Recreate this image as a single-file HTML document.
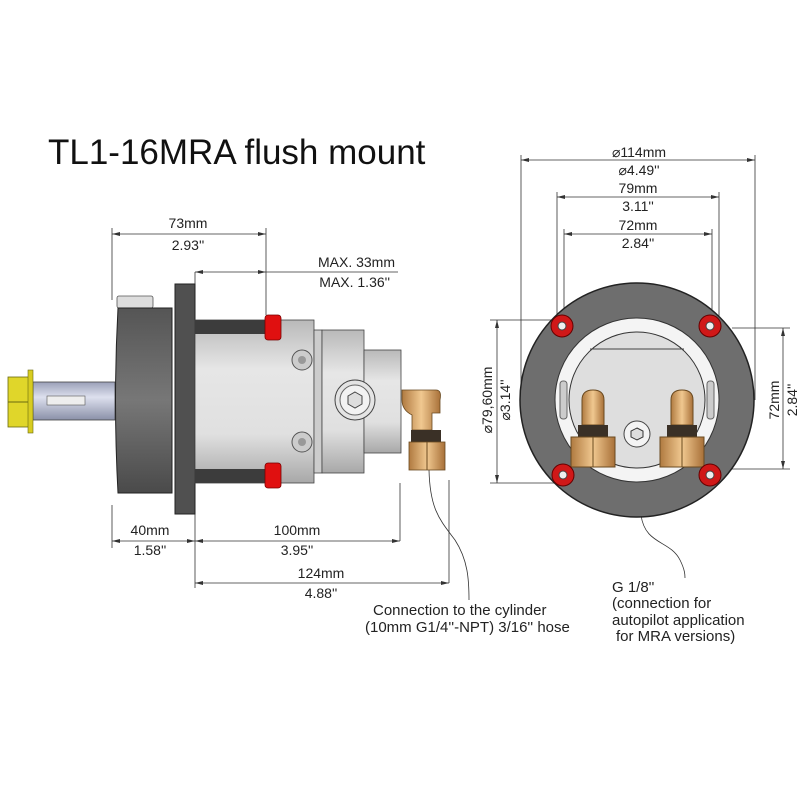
<!DOCTYPE html>
<html><head><meta charset="utf-8"><style>
html,body{margin:0;padding:0;background:#fff;}
svg{display:block;}
text{font-family:"Liberation Sans",sans-serif;fill:#222;}
</style></head><body>
<svg width="800" height="800" viewBox="0 0 800 800" xmlns="http://www.w3.org/2000/svg">
<defs>
<linearGradient id="gBody" x1="0" y1="0" x2="0" y2="1">
<stop offset="0" stop-color="#b9b9b9"/><stop offset="0.3" stop-color="#e6e6e6"/><stop offset="0.7" stop-color="#e0e0e0"/><stop offset="1" stop-color="#a8a8a8"/></linearGradient>
<linearGradient id="gDark" x1="0" y1="0" x2="0" y2="1">
<stop offset="0" stop-color="#555"/><stop offset="0.5" stop-color="#777"/><stop offset="1" stop-color="#4a4a4a"/></linearGradient>
<linearGradient id="gShaft" x1="0" y1="0" x2="0" y2="1">
<stop offset="0" stop-color="#9aa0b8"/><stop offset="0.4" stop-color="#dde0ee"/><stop offset="1" stop-color="#8a90a8"/></linearGradient>
<linearGradient id="gBrass" x1="0" y1="0" x2="1" y2="0">
<stop offset="0" stop-color="#b07a40"/><stop offset="0.5" stop-color="#f0c890"/><stop offset="1" stop-color="#a87038"/></linearGradient>
</defs>
<g stroke="#333" stroke-width="0.8" fill="none">
<!-- dims left -->
<line x1="112" y1="234" x2="266" y2="234"/>
<line x1="112" y1="228" x2="112" y2="300"/><line x1="112" y1="505" x2="112" y2="548"/>
<line x1="266" y1="228" x2="266" y2="315"/>
<line x1="195" y1="272" x2="398" y2="272"/><line x1="195" y1="272" x2="195" y2="285"/>
<line x1="112" y1="541" x2="400" y2="541"/>
<line x1="195" y1="512" x2="195" y2="588"/>
<line x1="400" y1="483" x2="400" y2="541"/>
<line x1="195" y1="583" x2="449" y2="583"/>
<line x1="449" y1="480" x2="449" y2="583"/>
<!-- dims right -->
<line x1="521" y1="160" x2="755" y2="160"/><line x1="521" y1="155" x2="521" y2="400"/><line x1="755" y1="155" x2="755" y2="400"/>
<line x1="557" y1="197" x2="719" y2="197"/><line x1="557" y1="192" x2="557" y2="330"/><line x1="719" y1="192" x2="719" y2="330"/>
<line x1="564" y1="234" x2="712" y2="234"/><line x1="564" y1="229" x2="564" y2="325"/><line x1="712" y1="229" x2="712" y2="325"/>
<line x1="497" y1="320" x2="497" y2="483"/><line x1="490" y1="320" x2="605" y2="320"/><line x1="490" y1="483" x2="605" y2="483"/>
<line x1="783" y1="328" x2="783" y2="469"/><line x1="732" y1="328" x2="790" y2="328"/><line x1="732" y1="469" x2="790" y2="469"/>
<!-- leaders -->
<path d="M429 470 C430 510 440 520 455 540 C468 560 469 580 469 600"/>
<path d="M640 420 L641 515 C645 545 670 540 680 560 C685 570 685 575 685 578"/>
</g>
<g fill="#333">
<path d="M112 234 l8 -2 v4z"/><path d="M266 234 l-8 -2 v4z"/>
<path d="M195 272 l8 -2 v4z"/><path d="M266 272 l-8 -2 v4z"/>
<path d="M112 541 l8 -2 v4z"/><path d="M195 541 l-8 -2 v4z"/><path d="M195 541 l8 -2 v4z"/><path d="M400 541 l-8 -2 v4z"/>
<path d="M195 583 l8 -2 v4z"/><path d="M449 583 l-8 -2 v4z"/>
<path d="M521 160 l8 -2 v4z"/><path d="M755 160 l-8 -2 v4z"/>
<path d="M557 197 l8 -2 v4z"/><path d="M719 197 l-8 -2 v4z"/>
<path d="M564 234 l8 -2 v4z"/><path d="M712 234 l-8 -2 v4z"/>
<path d="M497 320 l-2 8 h4z"/><path d="M497 483 l-2 -8 h4z"/>
<path d="M783 328 l-2 8 h4z"/><path d="M783 469 l-2 -8 h4z"/>
</g>

<!-- LEFT VIEW -->
<rect x="33" y="382" width="82" height="38" fill="url(#gShaft)" stroke="#444" stroke-width="0.8"/>
<rect x="47" y="396" width="38" height="9" fill="#eee" stroke="#555" stroke-width="0.6"/>
<rect x="8" y="377" width="22" height="50" fill="#e0d62a" stroke="#6a6a10" stroke-width="0.8"/>
<line x1="8" y1="402" x2="30" y2="402" stroke="#6a6a10"/>
<rect x="28" y="370" width="5" height="63" fill="#d8cc20" stroke="#6a6a10" stroke-width="0.6"/>
<rect x="117" y="296" width="36" height="12" rx="2" fill="#ddd" stroke="#555" stroke-width="0.8"/>
<path d="M118 308 H172 V493 H118 Q113 400 118 308Z" fill="url(#gDark)" stroke="#222" stroke-width="1"/>
<rect x="175" y="284" width="20" height="230" fill="#505050" stroke="#222"/>
<rect x="195" y="320" width="119" height="163" fill="url(#gBody)" stroke="#444" stroke-width="0.8"/>
<rect x="195" y="320" width="70" height="14" fill="#3c3c3c"/>
<rect x="195" y="469" width="70" height="14" fill="#3c3c3c"/>
<rect x="265" y="315" width="16" height="25" rx="3" fill="#e01010" stroke="#700" stroke-width="0.8"/>
<rect x="265" y="463" width="16" height="25" rx="3" fill="#e01010" stroke="#700" stroke-width="0.8"/>
<rect x="314" y="330" width="8" height="143" fill="#ccc" stroke="#444" stroke-width="0.8"/>
<rect x="322" y="330" width="42" height="143" fill="url(#gBody)" stroke="#444" stroke-width="0.8"/>
<rect x="364" y="350" width="37" height="103" fill="url(#gBody)" stroke="#444" stroke-width="0.8"/>
<circle cx="302" cy="360" r="10" fill="#ccc" stroke="#555"/><circle cx="302" cy="360" r="4" fill="#999"/>
<circle cx="302" cy="442" r="10" fill="#ccc" stroke="#555"/><circle cx="302" cy="442" r="4" fill="#999"/>
<circle cx="355" cy="400" r="20" fill="#e4e4e4" stroke="#444"/><circle cx="355" cy="400" r="15" fill="#f2f2f2" stroke="#666"/>
<polygon points="355,392 362,396 362,404 355,408 348,404 348,396" fill="#ddd" stroke="#444"/>
<path d="M402 390 H436 Q442 390 440 400 V413 H432 V430 H412 V415 Q402 410 402 400Z" fill="url(#gBrass)" stroke="#6a4a20" stroke-width="0.8"/>
<rect x="411" y="430" width="30" height="12" fill="#3a3026"/>
<rect x="409" y="442" width="36" height="28" fill="url(#gBrass)" stroke="#6a4a20" stroke-width="0.8"/>
<line x1="427" y1="442" x2="427" y2="470" stroke="#6a4a20"/>

<!-- RIGHT VIEW -->
<circle cx="637" cy="400" r="117" fill="#6e6e6e" stroke="#222" stroke-width="1.5"/>
<circle cx="637" cy="400" r="82" fill="#f4f4f4" stroke="#333"/>
<circle cx="637" cy="400" r="68" fill="#dedede" stroke="#333"/>
<line x1="590" y1="349" x2="684" y2="349" stroke="#444"/>
<rect x="560" y="381" width="7" height="38" rx="3" fill="#ccc" stroke="#666"/>
<rect x="707" y="381" width="7" height="38" rx="3" fill="#ccc" stroke="#666"/>
<circle cx="637" cy="434" r="13" fill="#f4f4f4" stroke="#444"/>
<polygon points="637,428 643,431 643,437 637,440 631,437 631,431" fill="#ddd" stroke="#333"/>
<g>
<path d="M582 400 Q582 390 593 390 Q604 390 604 400 V425 H582Z" fill="url(#gBrass)" stroke="#6a4a20"/>
<rect x="578" y="425" width="30" height="12" fill="#3a3026"/>
<rect x="571" y="437" width="44" height="30" fill="url(#gBrass)" stroke="#6a4a20"/>
<line x1="593" y1="437" x2="593" y2="467" stroke="#6a4a20"/>
<path d="M671 400 Q671 390 682 390 Q693 390 693 400 V425 H671Z" fill="url(#gBrass)" stroke="#6a4a20"/>
<rect x="667" y="425" width="30" height="12" fill="#3a3026"/>
<rect x="660" y="437" width="44" height="30" fill="url(#gBrass)" stroke="#6a4a20"/>
<line x1="682" y1="437" x2="682" y2="467" stroke="#6a4a20"/>
</g>
<g fill="#d01818" stroke="#600">
<circle cx="562" cy="326" r="11"/><circle cx="710" cy="326" r="11"/><circle cx="563" cy="475" r="11"/><circle cx="710" cy="475" r="11"/>
</g>
<g fill="#eee" stroke="#444">
<circle cx="562" cy="326" r="4"/><circle cx="710" cy="326" r="4"/><circle cx="563" cy="475" r="4"/><circle cx="710" cy="475" r="4"/>
</g>

<!-- TEXT -->
<text x="48" y="164" font-size="35" style="fill:#111">TL1-16MRA flush mount</text>
<g font-size="14" text-anchor="middle">
<text x="188" y="228">73mm</text><text x="188" y="250">2.93''</text>
<text x="395" y="267" text-anchor="end">MAX. 33mm</text><text x="390" y="287" text-anchor="end">MAX. 1.36''</text>
<text x="150" y="535">40mm</text><text x="150" y="555">1.58''</text>
<text x="297" y="535">100mm</text><text x="297" y="555">3.95''</text>
<text x="321" y="578">124mm</text><text x="321" y="598">4.88''</text>
<text x="639" y="157">⌀114mm</text><text x="639" y="175">⌀4.49''</text>
<text x="638" y="193">79mm</text><text x="638" y="211">3.11''</text>
<text x="638" y="230">72mm</text><text x="638" y="248">2.84''</text>
<text transform="translate(492,400) rotate(-90)">⌀79,60mm</text>
<text transform="translate(510,400) rotate(-90)">⌀3.14''</text>
<text transform="translate(779,400) rotate(-90)">72mm</text>
<text transform="translate(797,400) rotate(-90)">2.84''</text>
</g>
<g font-size="15">
<text x="373" y="615">Connection to the cylinder</text>
<text x="365" y="632">(10mm G1/4''-NPT) 3/16'' hose</text>
<text x="612" y="592">G 1/8''</text>
<text x="612" y="608">(connection for</text>
<text x="612" y="625">autopilot application</text>
<text x="616" y="641">for MRA versions)</text>
</g>
</svg>
</body></html>
